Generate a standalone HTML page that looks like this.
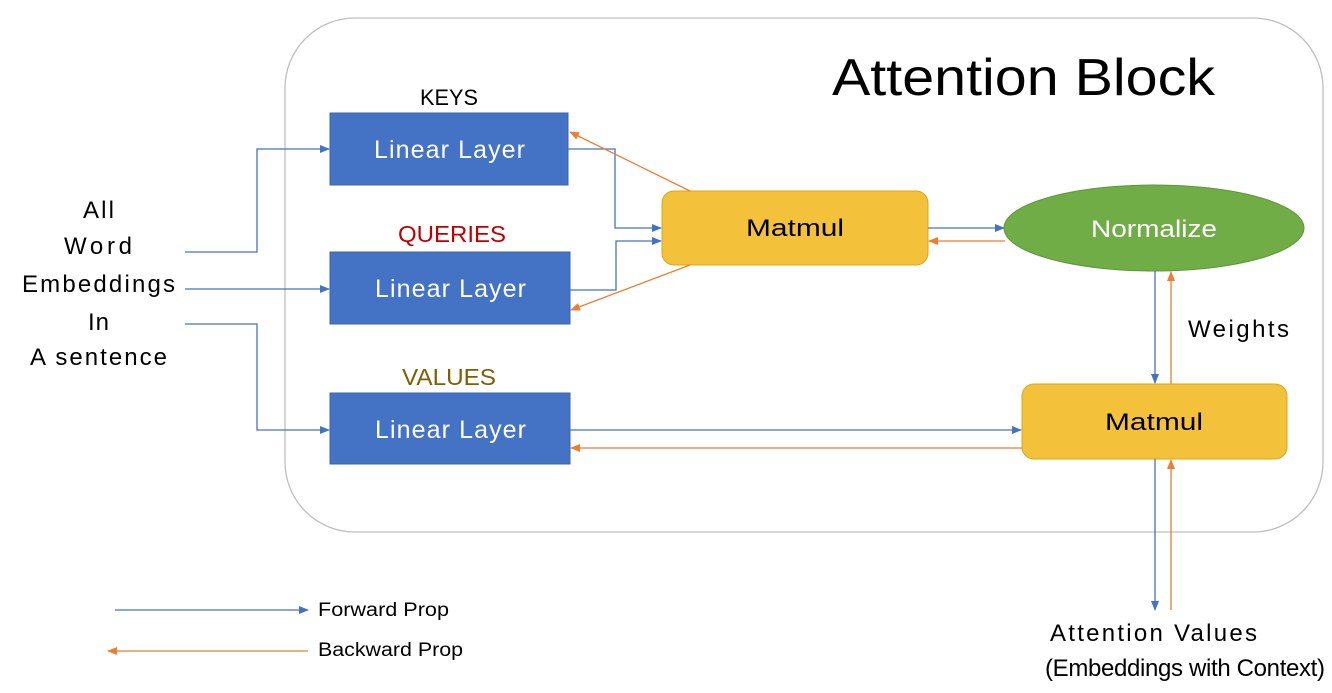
<!DOCTYPE html>
<html><head><meta charset="utf-8"><style>
body{margin:0;background:#fff}
svg text{font-family:"Liberation Sans",sans-serif}
</style></head><body>
<svg width="1332" height="688" viewBox="0 0 1332 688" xmlns="http://www.w3.org/2000/svg">
<defs>
<marker id="b" markerWidth="10" markerHeight="8" refX="9" refY="4" orient="auto" markerUnits="userSpaceOnUse"><path d="M0,0 L10,4 L0,8z" fill="#4472c4"/></marker>
<marker id="o" markerWidth="10" markerHeight="8" refX="9" refY="4" orient="auto" markerUnits="userSpaceOnUse"><path d="M0,0 L10,4 L0,8z" fill="#ed7d31"/></marker>
</defs>
<rect x="285" y="18" width="1038" height="514" rx="70" fill="none" stroke="#bfbfbf" stroke-width="1.3"/>
<text x="832" y="95" font-size="52" textLength="383" lengthAdjust="spacingAndGlyphs" fill="#000">Attention Block</text>
<text x="420" y="105" font-size="22" textLength="58" lengthAdjust="spacingAndGlyphs">KEYS</text>
<text x="398" y="242" font-size="23" textLength="108" lengthAdjust="spacingAndGlyphs" fill="#c00000">QUERIES</text>
<text x="402" y="385" font-size="23" textLength="94" lengthAdjust="spacingAndGlyphs" fill="#7f6000">VALUES</text>
<g fill="#4472c4" stroke="#3b64ad">
<rect x="330" y="113" width="238" height="72"/>
<rect x="330" y="252" width="240" height="72"/>
<rect x="330" y="393" width="240" height="71"/>
</g>
<g fill="#fff" font-size="25" lengthAdjust="spacingAndGlyphs">
<text x="374" y="158" textLength="151">Linear Layer</text>
<text x="375" y="297" textLength="151">Linear Layer</text>
<text x="375" y="438" textLength="151">Linear Layer</text>
</g>
<rect x="662" y="191" width="266" height="74" rx="12" fill="#f4c13b" stroke="#d9a81e"/>
<text x="746" y="236" font-size="24" textLength="98" lengthAdjust="spacingAndGlyphs">Matmul</text>
<ellipse cx="1154" cy="228" rx="150" ry="43" fill="#70ad47" stroke="#5e9639"/>
<text x="1091" y="237" font-size="24" textLength="126" lengthAdjust="spacingAndGlyphs" fill="#fff">Normalize</text>
<rect x="1022" y="384" width="265" height="75" rx="12" fill="#f4c13b" stroke="#d9a81e"/>
<text x="1105" y="430" font-size="24" textLength="98" lengthAdjust="spacingAndGlyphs">Matmul</text>
<g fill="none" stroke="#4472c4" stroke-width="1.3" marker-end="url(#b)">
<path d="M185,252 H257 V149 H329"/>
<path d="M185,289 H329"/>
<path d="M185,324 H257 V430 H329"/>
<path d="M568,149 H615 V228 H661"/>
<path d="M570,290 H616 V241 H661"/>
<path d="M928,228 H1004"/>
<path d="M1155,271 V383"/>
<path d="M570,430 H1021"/>
<path d="M1155,459 V610"/>
<path d="M115,610 H308"/>
</g>
<g fill="none" stroke="#ed7d31" stroke-width="1.3" marker-end="url(#o)">
<path d="M690,191 L570,132"/>
<path d="M690,265 L571,310"/>
<path d="M1005,241 H929"/>
<path d="M1171,384 V272"/>
<path d="M1022,448 H571"/>
<path d="M1171,610 V460"/>
<path d="M308,651 H108"/>
</g>
<g font-size="24" lengthAdjust="spacingAndGlyphs">
<text x="83" y="218" textLength="31">All</text>
<text x="64" y="254" textLength="68">Word</text>
<text x="22" y="292" textLength="153">Embeddings</text>
<text x="88" y="330" textLength="21">In</text>
<text x="30" y="365" textLength="137">A sentence</text>
<text x="1188" y="337" textLength="101">Weights</text>
<text x="1050" y="641" textLength="207">Attention Values</text>
<text x="1045" y="676" textLength="280">(Embeddings with Context)</text>
</g>
<text x="318" y="616" font-size="19" textLength="131" lengthAdjust="spacingAndGlyphs">Forward Prop</text>
<text x="318" y="656" font-size="19" textLength="145" lengthAdjust="spacingAndGlyphs">Backward Prop</text>
</svg>
</body></html>
